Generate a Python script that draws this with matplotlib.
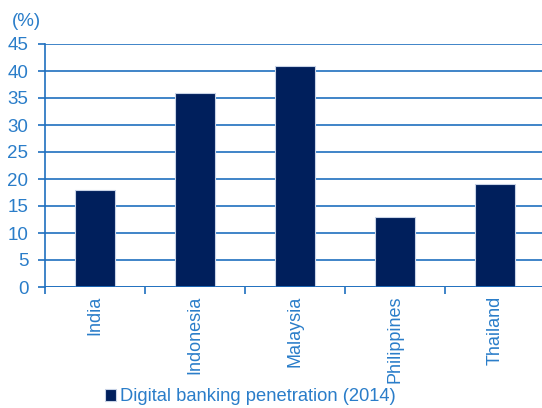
import matplotlib.pyplot as plt
import numpy as np

plt.rcParams['font.family'] = ['Liberation Sans', 'DejaVu Sans']

paises = ["India", "Indonesia", "Malaysia", "Philippines", "Thailand"]
penetracao = [18, 36, 41, 13, 19]
rotulo_serie = "Digital banking penetration (2014)"

azul_texto = "#2a7dc9"
azul_grade = "#1f6fbf"
azul_barra = "#001f5c"
tamanho = 13.5

fig = plt.figure(figsize=(5.42, 4.08), dpi=100)
ax = fig.add_axes([45 / 542, 121 / 408, 500 / 542, 243 / 408])

x = np.arange(len(paises))
ax.bar(x, penetracao, width=0.4, color=azul_barra, edgecolor="#c8d3e6",
       linewidth=0.8, label=rotulo_serie, zorder=3)

ax.set_xlim(-0.5, len(paises) - 0.5)
ax.set_ylim(0, 45)
ax.set_yticks(range(0, 46, 5))
ax.yaxis.grid(True, color=azul_grade, linewidth=1.2, zorder=0)

# ticks do eixo x ficam nas divisas entre categorias
ax.set_xticks(np.arange(-0.5, len(paises) + 0.5, 1))
ax.set_xticklabels([])
for i, nome in enumerate(paises):
    ax.text(i, -1.6, nome, rotation=90, ha="center", va="top",
            color=azul_texto, fontsize=13)

for lado in ["top", "right", "bottom"]:
    ax.spines[lado].set_visible(False)
ax.spines["left"].set_color(azul_grade)
ax.spines["left"].set_linewidth(1.2)
ax.axhline(0, color=azul_grade, linewidth=1.2, zorder=4)

ax.tick_params(axis="y", colors=azul_grade, labelcolor=azul_texto,
               length=5, width=1.2, labelsize=tamanho, pad=7)
ax.tick_params(axis="x", colors=azul_grade, length=5, width=1.2)

fig.text(12 / 542, 1 - 21 / 408, "(%)", color=azul_texto, fontsize=tamanho,
         ha="left", va="center")

fig.legend(loc="lower left", bbox_to_anchor=(88 / 542, -0.034), frameon=False,
           handlelength=0.6, handleheight=0.6, handletextpad=0.25,
           labelcolor=azul_texto, fontsize=13.2)

fig.savefig("out.png", dpi=100)
